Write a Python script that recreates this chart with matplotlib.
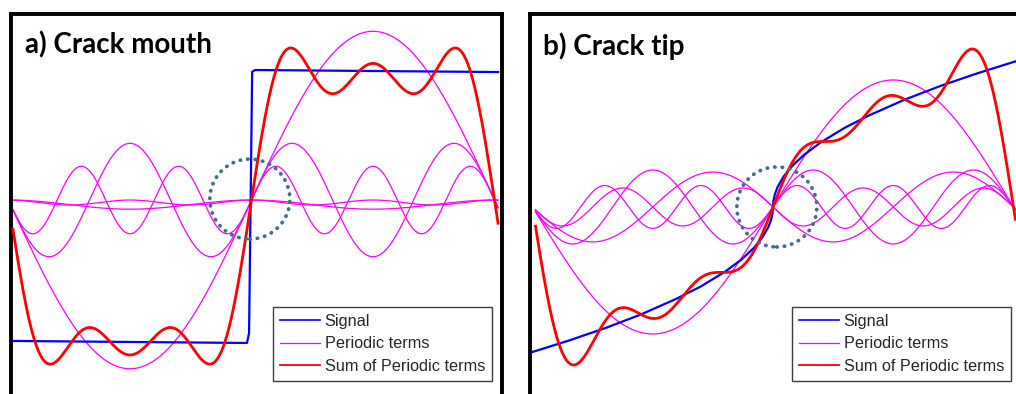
import numpy as np
import matplotlib
matplotlib.use("Agg")
import matplotlib.pyplot as plt
from matplotlib.patches import Circle
from matplotlib.transforms import ScaledTranslation

# ---------------- a) crack mouth: step signal and its Fourier terms ----------------
mouth_signal_x = [0.058, 3.083, 3.110, 3.150, 3.190, 6.329]
mouth_signal_y = [-1.044, -1.059, -0.985, 0.950, 0.963, 0.948]
mouth_odd_orders = [1, 3, 5]            # -b_n * sin(n x)
mouth_odd_amps = [1.25, 0.42, 0.25]
mouth_even_orders = [2, 4]              # -c_n * (1 - cos(n x))
mouth_even_amps = [0.034, 0.0185]
mouth_x_range = (0.058, 6.329)
mouth_highlight = (3.12, 0.007)

# ---------------- b) crack tip: square-root signal and its Fourier terms ----------------
tip_signal_t = [-1.0, -0.85, -0.7, -0.55, -0.4, -0.3, -0.2, -0.13, -0.08, -0.045,
                -0.02, -0.008, -0.002, 0.0, 0.002, 0.008, 0.02, 0.045, 0.08, 0.13,
                0.2, 0.3, 0.4, 0.55, 0.7, 0.85, 1.0, 1.008]
tip_signal_y = [-1.0, -0.922, -0.837, -0.742, -0.632, -0.548, -0.447, -0.361, -0.283, -0.212,
                -0.141, -0.089, -0.045, 0.0, 0.045, 0.089, 0.141, 0.212, 0.283, 0.361,
                0.447, 0.548, 0.632, 0.742, 0.837, 0.922, 1.0, 1.004]
tip_orders = [1, 2, 3, 4, 5]            # b_n * sin(n pi t)
tip_amps = [0.876, -0.241, 0.255, -0.131, 0.148]
tip_t_range = (-0.9875, 1.008)
tip_highlight = (0.016, 0.0)

legend_labels = ["Signal", "Periodic terms", "Sum of Periodic terms"]

SIGNAL_C, TERM_C, SUM_C = "#0000FF", "#FF00FF", "#FF0000"
W, H = 1016, 394

fig = plt.figure(figsize=(W / 100, H / 100), dpi=100)


def px_axes(left, right, top, bottom):
    return fig.add_axes([left / W, 1 - bottom / H, (right - left) / W, (bottom - top) / H])


def style_axes(ax):
    ax.set_xticks([])
    ax.set_yticks([])
    for side in ("left", "top", "right"):
        ax.spines[side].set_linewidth(2.8)
        ax.spines[side].set_color("black")
    ax.spines["bottom"].set_visible(False)


def add_legend(ax, handles, left_px, top_px):
    leg = ax.legend(handles, legend_labels, loc="upper left",
                    bbox_to_anchor=(left_px / W, 1 - top_px / H),
                    bbox_transform=fig.transFigure, borderaxespad=0,
                    prop={"family": "Liberation Sans", "size": 11.7},
                    frameon=True, fancybox=False, framealpha=1,
                    edgecolor="#3C3C3C", borderpad=0.42, handlelength=2.45,
                    handletextpad=0.31, labelspacing=0.47)
    leg.get_frame().set_linewidth(1.0)
    for t in leg.get_texts():
        t.set_color("#262626")
    for line, lw in zip(leg.get_lines(), (1.2, 0.9, 1.3)):
        line.set_linewidth(lw)
    return leg


def add_ring(ax, center):
    trans = fig.dpi_scale_trans + ScaledTranslation(center[0], center[1], ax.transData)
    ring = Circle((0, 0), 0.40, transform=trans, fill=False, edgecolor="#3F6E8F",
                  linewidth=2.7, linestyle=(0, (0.1, 1.9)), zorder=6)
    ring.set_capstyle("round")
    ax.add_patch(ring)


# ---------- panel a ----------
ax_a = px_axes(11, 502, 14, 394)
style_axes(ax_a)
ax_a.set_xlim(0.0323, 6.380)
ax_a.set_ylim(-1.437, 1.378)

xa = np.linspace(mouth_x_range[0], mouth_x_range[1], 2000)
terms_a = [-b * np.sin(n * xa) for n, b in zip(mouth_odd_orders, mouth_odd_amps)]
terms_a += [-c * (1 - np.cos(n * xa)) for n, c in zip(mouth_even_orders, mouth_even_amps)]

sig_a, = ax_a.plot(mouth_signal_x, mouth_signal_y, color=SIGNAL_C, lw=1.6, zorder=3)
term_lines_a = [ax_a.plot(xa, y, color=TERM_C, lw=0.9, zorder=2)[0] for y in terms_a]
sum_a, = ax_a.plot(xa, np.sum(terms_a, axis=0), color=SUM_C, lw=2.0, zorder=4)

ax_a.text(0.0285, 0.897, "a) Crack mouth", transform=ax_a.transAxes, ha="left",
          va="baseline", fontsize=20, fontweight="bold", family="Lato", color="black")
add_ring(ax_a, mouth_highlight)
add_legend(ax_a, [sig_a, term_lines_a[0], sum_a], 273, 307)

# ---------- panel b ----------
ax_b = px_axes(529.5, 1019, 14, 394)
style_axes(ax_b)
ax_b.set_xlim(-1.0125, 1.0229)
ax_b.set_ylim(-1.290, 1.331)

tb = np.linspace(tip_t_range[0], tip_t_range[1], 2000)
terms_b = [b * np.sin(n * np.pi * tb) for n, b in zip(tip_orders, tip_amps)]

sig_b, = ax_b.plot(tip_signal_t, tip_signal_y, color=SIGNAL_C, lw=1.6, zorder=3)
term_lines_b = [ax_b.plot(tb, y, color=TERM_C, lw=0.9, zorder=2)[0] for y in terms_b]
sum_b, = ax_b.plot(tb, np.sum(terms_b, axis=0), color=SUM_C, lw=2.0, zorder=4)

ax_b.text(0.0276, 0.892, "b) Crack tip", transform=ax_b.transAxes, ha="left",
          va="baseline", fontsize=20, fontweight="bold", family="Lato", color="black")
add_ring(ax_b, tip_highlight)
add_legend(ax_b, [sig_b, term_lines_b[0], sum_b], 792, 307)

fig.savefig("out.png", dpi=100, facecolor="white")
